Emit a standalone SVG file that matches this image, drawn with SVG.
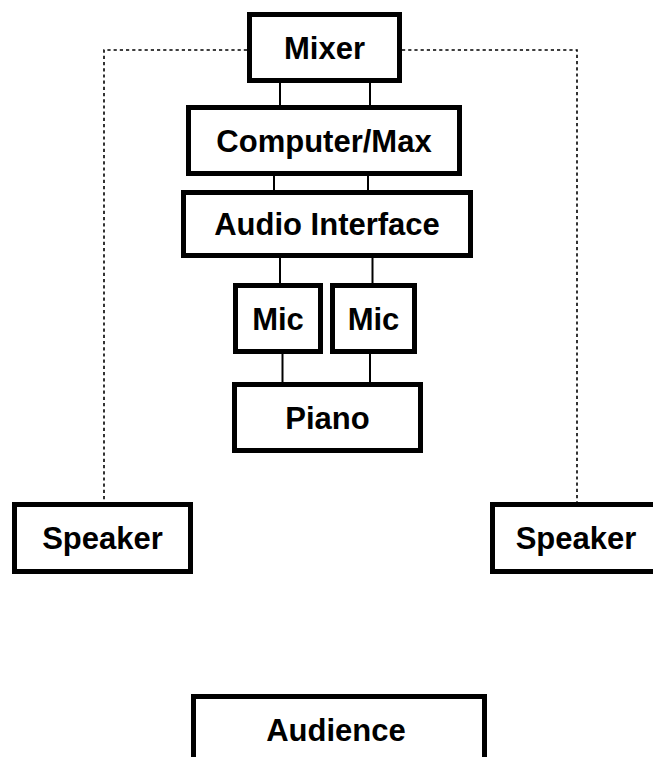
<svg xmlns="http://www.w3.org/2000/svg" width="653" height="757" viewBox="0 0 653 757">
<style>
.box{fill:#fff;stroke:#000;stroke-width:5}
.lbl{font-family:"Liberation Sans",Arial,Helvetica,sans-serif;font-weight:bold;font-size:31px;fill:#000;text-anchor:middle}
.wire{stroke:#000;stroke-width:2;fill:none}
.dash{stroke:#000;stroke-width:1.6;fill:none;stroke-dasharray:3.2 3}
</style>
<rect width="653" height="757" fill="#fff"/>
<g id="connectors">
<path class="dash" d="M247 50H104V502"/>
<path class="dash" d="M402 50H577V502"/>
<line class="wire" x1="280" y1="83" x2="280" y2="105"/>
<line class="wire" x1="370" y1="83" x2="370" y2="105"/>
<line class="wire" x1="274" y1="176" x2="274" y2="190"/>
<line class="wire" x1="368" y1="176" x2="368" y2="190"/>
<line class="wire" x1="280" y1="258" x2="280" y2="283"/>
<line class="wire" x1="372.5" y1="258" x2="372.5" y2="283"/>
<line class="wire" x1="282.5" y1="354" x2="282.5" y2="382"/>
<line class="wire" x1="370" y1="354" x2="370" y2="382"/>
</g>
<g id="mixer"><rect class="box" x="249.5" y="14.5" width="150" height="66"/><text class="lbl" x="324.5" y="58.5">Mixer</text></g>
<g id="computer"><rect class="box" x="188.5" y="107.5" width="271" height="66"/><text class="lbl" x="324" y="151.5">Computer/Max</text></g>
<g id="audio-interface"><rect class="box" x="183.5" y="192.5" width="287" height="63"/><text class="lbl" x="327" y="235">Audio Interface</text></g>
<g id="mic1"><rect class="box" x="235.5" y="285.5" width="85" height="66"/><text class="lbl" x="278" y="329.5">Mic</text></g>
<g id="mic2"><rect class="box" x="332.5" y="285.5" width="82" height="66"/><text class="lbl" x="373.5" y="329.5">Mic</text></g>
<g id="piano"><rect class="box" x="234.5" y="384.5" width="186" height="66"/><text class="lbl" x="327.5" y="428.5">Piano</text></g>
<g id="speaker-left"><rect class="box" x="14.5" y="504.5" width="176" height="67"/><text class="lbl" x="102.5" y="549">Speaker</text></g>
<g id="speaker-right"><rect class="box" x="492.5" y="504.5" width="200" height="67"/><text class="lbl" x="576" y="549">Speaker</text></g>
<g id="audience"><rect class="box" x="193.5" y="696.5" width="291" height="90"/><text class="lbl" x="336" y="741">Audience</text></g>
</svg>
